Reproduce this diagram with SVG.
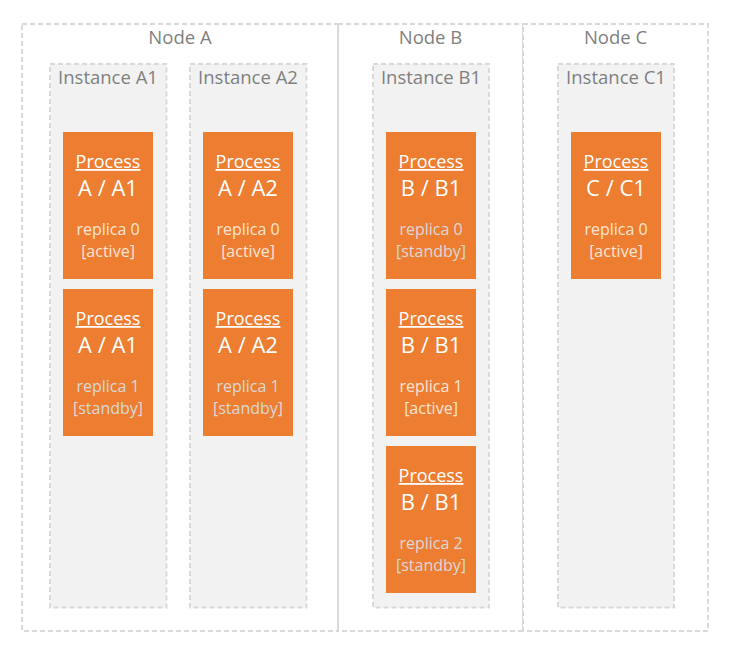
<svg xmlns="http://www.w3.org/2000/svg" width="738" height="652" viewBox="0 0 738 652">
<style>
.node{fill:#ffffff;stroke:#d9d9d9;stroke-width:2;stroke-dasharray:5 3}
.inst{fill:#f2f2f2;stroke:#d9d9d9;stroke-width:2;stroke-dasharray:5 3}
.lbl{font-family:"Open Sans","Noto Sans",sans-serif;font-size:18.5px;fill:#7f7f7f;text-anchor:middle}
.proc{fill:#ed7d31}
.t{font-family:"Open Sans","Noto Sans",sans-serif;text-anchor:middle}
.p{font-size:18px;fill:#ffffff;text-decoration:underline}
.n{font-size:22px;fill:#ffffff}
.a{font-size:16px;fill:#fbe5d6}
.s{font-size:16px;fill:#d9d9d9}
</style>
<rect width="738" height="652" fill="#ffffff"/>
<g id="nodeA"><rect class="node" x="22" y="24" width="316" height="607"/><text class="lbl" x="180" y="44">Node A</text></g>
<g id="nodeB"><rect class="node" x="338" y="24" width="185" height="607"/><text class="lbl" x="430.5" y="44">Node B</text></g>
<g id="nodeC"><rect class="node" x="523" y="24" width="185" height="607"/><text class="lbl" x="615.5" y="44">Node C</text></g>
<line x1="338" y1="24" x2="338" y2="631" stroke="#d9d9d9" stroke-width="2"/>
<g id="instA1"><rect class="inst" x="50" y="64" width="116.5" height="543.5"/><text class="lbl" x="108" y="84">Instance A1</text></g>
<g id="instA2"><rect class="inst" x="190" y="64" width="116.5" height="543.5"/><text class="lbl" x="248" y="84">Instance A2</text></g>
<g id="instB1"><rect class="inst" x="373" y="64" width="116" height="543.5"/><text class="lbl" x="431" y="84">Instance B1</text></g>
<g id="instC1"><rect class="inst" x="558" y="64" width="116" height="543.5"/><text class="lbl" x="616" y="84">Instance C1</text></g>

<g id="procA1r0"><rect class="proc" x="63" y="132" width="90" height="147"/>
<text class="t p" x="108" y="168">Process</text><text class="t n" x="108" y="196">A / A1</text>
<text class="t a" x="108" y="235">replica 0</text><text class="t a" x="108" y="257">[active]</text></g>
<g id="procA1r1"><rect class="proc" x="63" y="289" width="90" height="147"/>
<text class="t p" x="108" y="325">Process</text><text class="t n" x="108" y="353">A / A1</text>
<text class="t s" x="108" y="392">replica 1</text><text class="t s" x="108" y="414">[standby]</text></g>

<g id="procA2r0"><rect class="proc" x="203" y="132" width="90" height="147"/>
<text class="t p" x="248" y="168">Process</text><text class="t n" x="248" y="196">A / A2</text>
<text class="t a" x="248" y="235">replica 0</text><text class="t a" x="248" y="257">[active]</text></g>
<g id="procA2r1"><rect class="proc" x="203" y="289" width="90" height="147"/>
<text class="t p" x="248" y="325">Process</text><text class="t n" x="248" y="353">A / A2</text>
<text class="t s" x="248" y="392">replica 1</text><text class="t s" x="248" y="414">[standby]</text></g>

<g id="procB1r0"><rect class="proc" x="386" y="132" width="90" height="147"/>
<text class="t p" x="431" y="168">Process</text><text class="t n" x="431" y="196">B / B1</text>
<text class="t s" x="431" y="235">replica 0</text><text class="t s" x="431" y="257">[standby]</text></g>
<g id="procB1r1"><rect class="proc" x="386" y="289" width="90" height="147"/>
<text class="t p" x="431" y="325">Process</text><text class="t n" x="431" y="353">B / B1</text>
<text class="t a" x="431" y="392">replica 1</text><text class="t a" x="431" y="414">[active]</text></g>
<g id="procB1r2"><rect class="proc" x="386" y="446" width="90" height="147"/>
<text class="t p" x="431" y="482">Process</text><text class="t n" x="431" y="510">B / B1</text>
<text class="t s" x="431" y="549">replica 2</text><text class="t s" x="431" y="571">[standby]</text></g>

<g id="procC1r0"><rect class="proc" x="571" y="132" width="90" height="147"/>
<text class="t p" x="616" y="168">Process</text><text class="t n" x="616" y="196">C / C1</text>
<text class="t a" x="616" y="235">replica 0</text><text class="t a" x="616" y="257">[active]</text></g>
<g id="connectors"></g>
</svg>
